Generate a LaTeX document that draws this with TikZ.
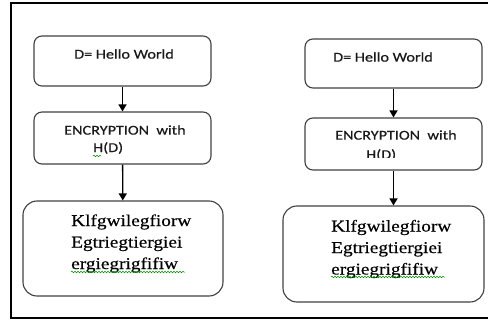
\documentclass[tikz,border=0pt]{standalone}
\usepackage{fontspec}
\setmainfont{Liberation Serif}
\newfontfamily\calfont[FakeStretch=1.2,FakeBold=0.5]{Carlito}
\newfontfamily\timfont[FakeStretch=1.17,FakeBold=0.4]{Liberation Serif}
\usetikzlibrary{arrows.meta,decorations.pathmorphing}

\begin{document}
\begin{tikzpicture}[x=1pt,y=-1pt,
        >={Triangle[length=7pt,width=8pt]},
        box/.style = {draw=black!75,line width=1.1pt,rounded corners=8pt,inner sep=0pt},
        bigbox/.style = {box,rounded corners=14pt},
        lbl/.style = {font=\calfont\fontsize{13.5}{17}\selectfont,text=black!90,inner sep=0pt,anchor=west},
        cipher/.style = {font=\timfont\fontsize{16.5}{21.5}\selectfont,align=left,inner sep=0pt,anchor=west},
        squiggle/.style = {draw=green!55!black,line width=0.5pt,decorate,decoration={snake,amplitude=0.8pt,segment length=3pt}}
        ]

        \useasboundingbox (0,0) rectangle (488,324);

        %Rahmen
        \draw[line width=1.1pt] (495,3) -- (11,3) -- (11,318) -- (495,318);

        %linke Spalte
        \node[box,minimum width=177pt,minimum height=50pt] (lb1) at (122.5,61) {};
        \node[box,minimum width=177pt,minimum height=52pt] (lb2) at (122.5,138) {};
        \node[bigbox,minimum width=200pt,minimum height=95pt] (lb3) at (123,248.5) {};
        \node[lbl] (lt1) at (74,54) {D= Hello World};
        \node[lbl] (lt2) at (64,130) {ENCRYPTION\ \ with};
        \node[lbl] (lt3) at (93,148) {H(D)};
        \node[cipher] (lc) at (71,243.5) {Klfgwilegfiorw\\Egtriegtiergiei\\ergiegrigfifiw};
        \draw[squiggle] (93,156) -- (101,156);
        \draw[squiggle] (71,272) -- (185,272);
        \draw[->,line width=1.3pt] (lb1) -- (lb2);
        \draw[->,line width=1.3pt] (lb2) -- (lb3);

        %rechte Spalte
        \node[box,minimum width=177pt,minimum height=49pt] (rb1) at (393.5,63.5) {};
        \node[box,minimum width=177pt,minimum height=52pt] (rb2) at (393.5,144) {};
        \node[bigbox,minimum width=201pt,minimum height=96pt] (rb3) at (383.5,254) {};
        \node[lbl] (rt1) at (333,57) {D= Hello World};
        \node[lbl] (rt2) at (335,135) {ENCRYPTION\ \ with};
        \begin{scope}
          \clip (330,140) rectangle (420,157);
          \node[lbl] (rt3) at (366,155) {H(D)};
        \end{scope}
        \node[cipher] (rc) at (331,249) {Klfgwilegfiorw\\Egtriegtiergiei\\ergiegrigfifiw};
        \draw[squiggle] (331,277) -- (445,277);
        \draw[->,line width=1.3pt] (rb1) -- (rb2);
        \draw[->,line width=1.3pt] (rb2) -- (rb3.north -| rb2);

\end{tikzpicture}
\end{document}
